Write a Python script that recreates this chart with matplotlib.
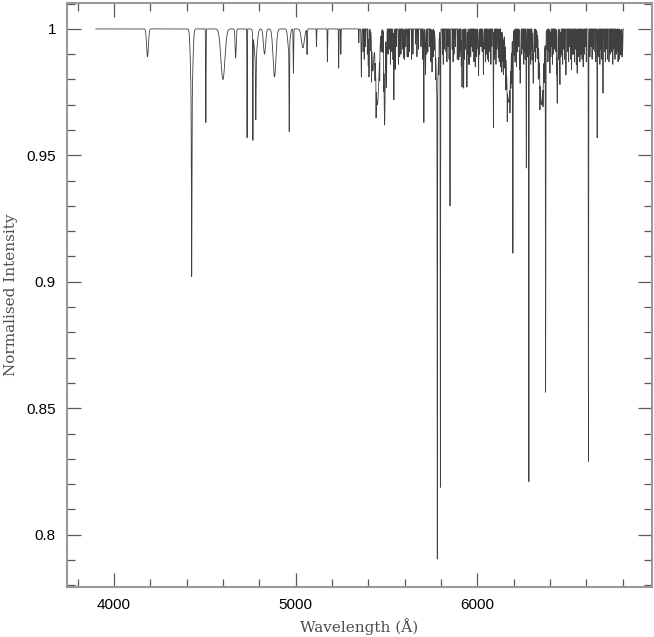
import numpy as np
import matplotlib
matplotlib.use('Agg')
import matplotlib.pyplot as plt
from matplotlib.ticker import MultipleLocator, FuncFormatter

# Absorption features: centre (A), minimum intensity, gaussian sigma (A)
line_centre = [4185, 4428, 4428, 4506, 4600, 4670, 4733, 4765, 4781, 4780,
               4829, 4884, 4965, 4963, 4988, 5040, 5063, 5115, 5175, 5237,
               5249, 5348, 5362, 5404, 5425, 5450, 5490, 5500, 5541, 5566,
               5596, 5614, 5646, 5706, 5715, 5751, 5779, 5780, 5797, 5850,
               5898, 5916, 5925, 5943, 5957, 5989, 6007, 6034, 6062, 6089,
               6116, 6135, 6144, 6172, 6196, 6236, 6270, 6284, 6308, 6354,
               6376, 6400, 6440, 6455, 6488, 6519, 6550, 6583, 6612, 6660,
               6692, 6725, 6765, 6787, 6800]
line_min = [0.989, 0.930, 0.972, 0.963, 0.980, 0.9885, 0.957, 0.958, 0.976, 0.988,
            0.990, 0.981, 0.967, 0.992, 0.9825, 0.9925, 0.990, 0.993, 0.987, 0.9845,
            0.990, 0.9945, 0.981, 0.981, 0.984, 0.970, 0.962, 0.977, 0.972, 0.986,
            0.9884, 0.989, 0.990, 0.963, 0.982, 0.983, 0.975, 0.815, 0.819, 0.930,
            0.9877, 0.977, 0.9766, 0.977, 0.986, 0.985, 0.9816, 0.982, 0.987, 0.961,
            0.9886, 0.983, 0.983, 0.971, 0.914, 0.9785, 0.945, 0.821, 0.9785, 0.970,
            0.859, 0.9825, 0.9706, 0.978, 0.9818, 0.9838, 0.9825, 0.985, 0.829, 0.957,
            0.9746, 0.987, 0.990, 0.9897, 0.991]
line_sigma = [5, 1.5, 6, 1.2, 11, 3, 1.0, 1.0, 1.5, 8,
              6, 8, 1.2, 6, 1.5, 8, 1.5, 1.0, 1.0, 1.0,
              1.0, 1.0, 1.5, 1.5, 5, 9, 3, 1.5, 1.5, 1.0,
              1.0, 1.0, 1.0, 1.0, 1.5, 1.5, 6, 0.9, 0.9, 0.9,
              1.0, 1.5, 1.0, 1.5, 1.0, 1.0, 1.5, 1.5, 1.0, 1.0,
              1.0, 1.5, 1.5, 11, 0.9, 2, 1.0, 0.9, 2, 10,
              0.9, 1.5, 2, 1.5, 1.0, 1.0, 1.0, 1.0, 0.9, 1.0,
              1.0, 1.0, 1.0, 1.0, 1.0]

# weak forest of narrow lines between 5350 and 6800 A
weak_centre = [5372, 5378, 5385, 5395, 5400, 5412, 5418, 5437, 5443, 5463,
               5471, 5480, 5485, 5509, 5516, 5522, 5530, 5536, 5548, 5555,
               5573, 5580, 5588, 5600, 5606, 5620, 5625, 5638, 5660, 5668,
               5676, 5690, 5698, 5722, 5728, 5738, 5745, 5757, 5762, 5770,
               5788, 5808, 5813, 5818, 5828, 5833, 5838, 5845, 5862, 5867,
               5872, 5880, 5890, 5904, 5908, 5912, 5930, 5934, 5948, 5952,
               5964, 5968, 5976, 5982, 5995, 5998, 6013, 6020, 6027, 6042,
               6046, 6050, 6056, 6070, 6075, 6080, 6093, 6098, 6103, 6108,
               6121, 6125, 6130, 6140, 6152, 6156, 6160, 6165, 6180, 6185,
               6190, 6204, 6208, 6212, 6216, 6220, 6228, 6232, 6245, 6252,
               6256, 6260, 6264, 6278, 6290, 6294, 6298, 6302, 6316, 6320,
               6324, 6330, 6336, 6340, 6345, 6362, 6368, 6372, 6385, 6389,
               6393, 6405, 6410, 6414, 6418, 6425, 6432, 6436, 6448, 6460,
               6465, 6470, 6475, 6480, 6498, 6503, 6508, 6513, 6525, 6530,
               6535, 6540, 6545, 6556, 6560, 6565, 6570, 6577, 6590, 6595,
               6600, 6620, 6625, 6632, 6640, 6648, 6652, 6667, 6670, 6675,
               6680, 6686, 6700, 6705, 6710, 6716, 6732, 6740, 6746, 6752,
               6758, 6770, 6775, 6778, 6782, 6791, 6794, 6797]
weak_min = [0.991, 0.988, 0.993, 0.990, 0.986, 0.992, 0.985, 0.991, 0.987, 0.990,
            0.993, 0.991, 0.985, 0.990, 0.992, 0.986, 0.991, 0.988, 0.984, 0.993,
            0.989, 0.990, 0.992, 0.988, 0.993, 0.989, 0.991, 0.988, 0.994, 0.989,
            0.992, 0.993, 0.988, 0.990, 0.991, 0.993, 0.987, 0.989, 0.992, 0.988,
            0.990, 0.990, 0.986, 0.992, 0.991, 0.987, 0.993, 0.988, 0.992, 0.987,
            0.990, 0.993, 0.988, 0.989, 0.991, 0.986, 0.988, 0.992, 0.990, 0.986,
            0.989, 0.993, 0.991, 0.987, 0.989, 0.992, 0.990, 0.993, 0.991, 0.992,
            0.987, 0.990, 0.988, 0.991, 0.986, 0.993, 0.988, 0.990, 0.986, 0.992,
            0.987, 0.991, 0.985, 0.988, 0.990, 0.986, 0.992, 0.987, 0.989, 0.991,
            0.986, 0.990, 0.987, 0.992, 0.985, 0.991, 0.993, 0.987, 0.990, 0.992,
            0.986, 0.991, 0.988, 0.989, 0.990, 0.986, 0.992, 0.988, 0.991, 0.987,
            0.993, 0.990, 0.986, 0.992, 0.988, 0.991, 0.990, 0.986, 0.992, 0.987,
            0.991, 0.989, 0.993, 0.986, 0.990, 0.992, 0.991, 0.986, 0.988, 0.989,
            0.990, 0.986, 0.992, 0.988, 0.991, 0.987, 0.993, 0.988, 0.990, 0.990,
            0.987, 0.992, 0.986, 0.989, 0.991, 0.987, 0.990, 0.988, 0.990, 0.993,
            0.987, 0.989, 0.993, 0.988, 0.992, 0.991, 0.987, 0.989, 0.990, 0.986,
            0.992, 0.988, 0.991, 0.987, 0.992, 0.988, 0.990, 0.991, 0.986, 0.992,
            0.988, 0.991, 0.987, 0.993, 0.988, 0.990, 0.992, 0.989]

wl_start, wl_end = 3900, 6805

wl = np.arange(wl_start, wl_end, 0.1)
flux = np.ones_like(wl)
for c, m, s in zip(line_centre, line_min, line_sigma):
    flux -= (1 - m) * np.exp(-0.5 * ((wl - c) / s) ** 2)
for c, m in zip(weak_centre, weak_min):
    flux -= (1 - m) * np.exp(-0.5 * ((wl - c) / 0.5) ** 2)

fig = plt.figure(figsize=(6.54, 6.37), dpi=100)
ax = fig.add_axes([0.1025, 0.0785, 0.8945, 0.917])
ax.plot(wl, flux, color='0.25', lw=0.6)

ax.set_xlim(3742, 6962)
ax.set_ylim(0.7793, 1.0103)
ax.xaxis.set_major_locator(MultipleLocator(1000))
ax.xaxis.set_minor_locator(MultipleLocator(200))
ax.yaxis.set_major_locator(MultipleLocator(0.05))
ax.yaxis.set_minor_locator(MultipleLocator(0.01))
ax.yaxis.set_major_formatter(FuncFormatter(lambda v, p: '%g' % round(v, 2)))
ax.tick_params(which='both', direction='in', top=True, right=True,
               color='0.35', labelsize=11, pad=8)
ax.tick_params(which='major', length=10, width=0.9)
ax.tick_params(which='minor', length=6, width=0.9)
for lab in ax.get_xticklabels() + ax.get_yticklabels():
    lab.set_family('Liberation Sans')
for sp in ax.spines.values():
    sp.set_color('0.6')
    sp.set_linewidth(1.5)

ax.set_xlabel('Wavelength (Å)', family='DejaVu Serif', fontsize=11, color='0.3')
ax.set_ylabel('Normalised Intensity', family='DejaVu Serif', fontsize=11,
              color='0.3', labelpad=6)

fig.savefig('out.png', dpi=100)
